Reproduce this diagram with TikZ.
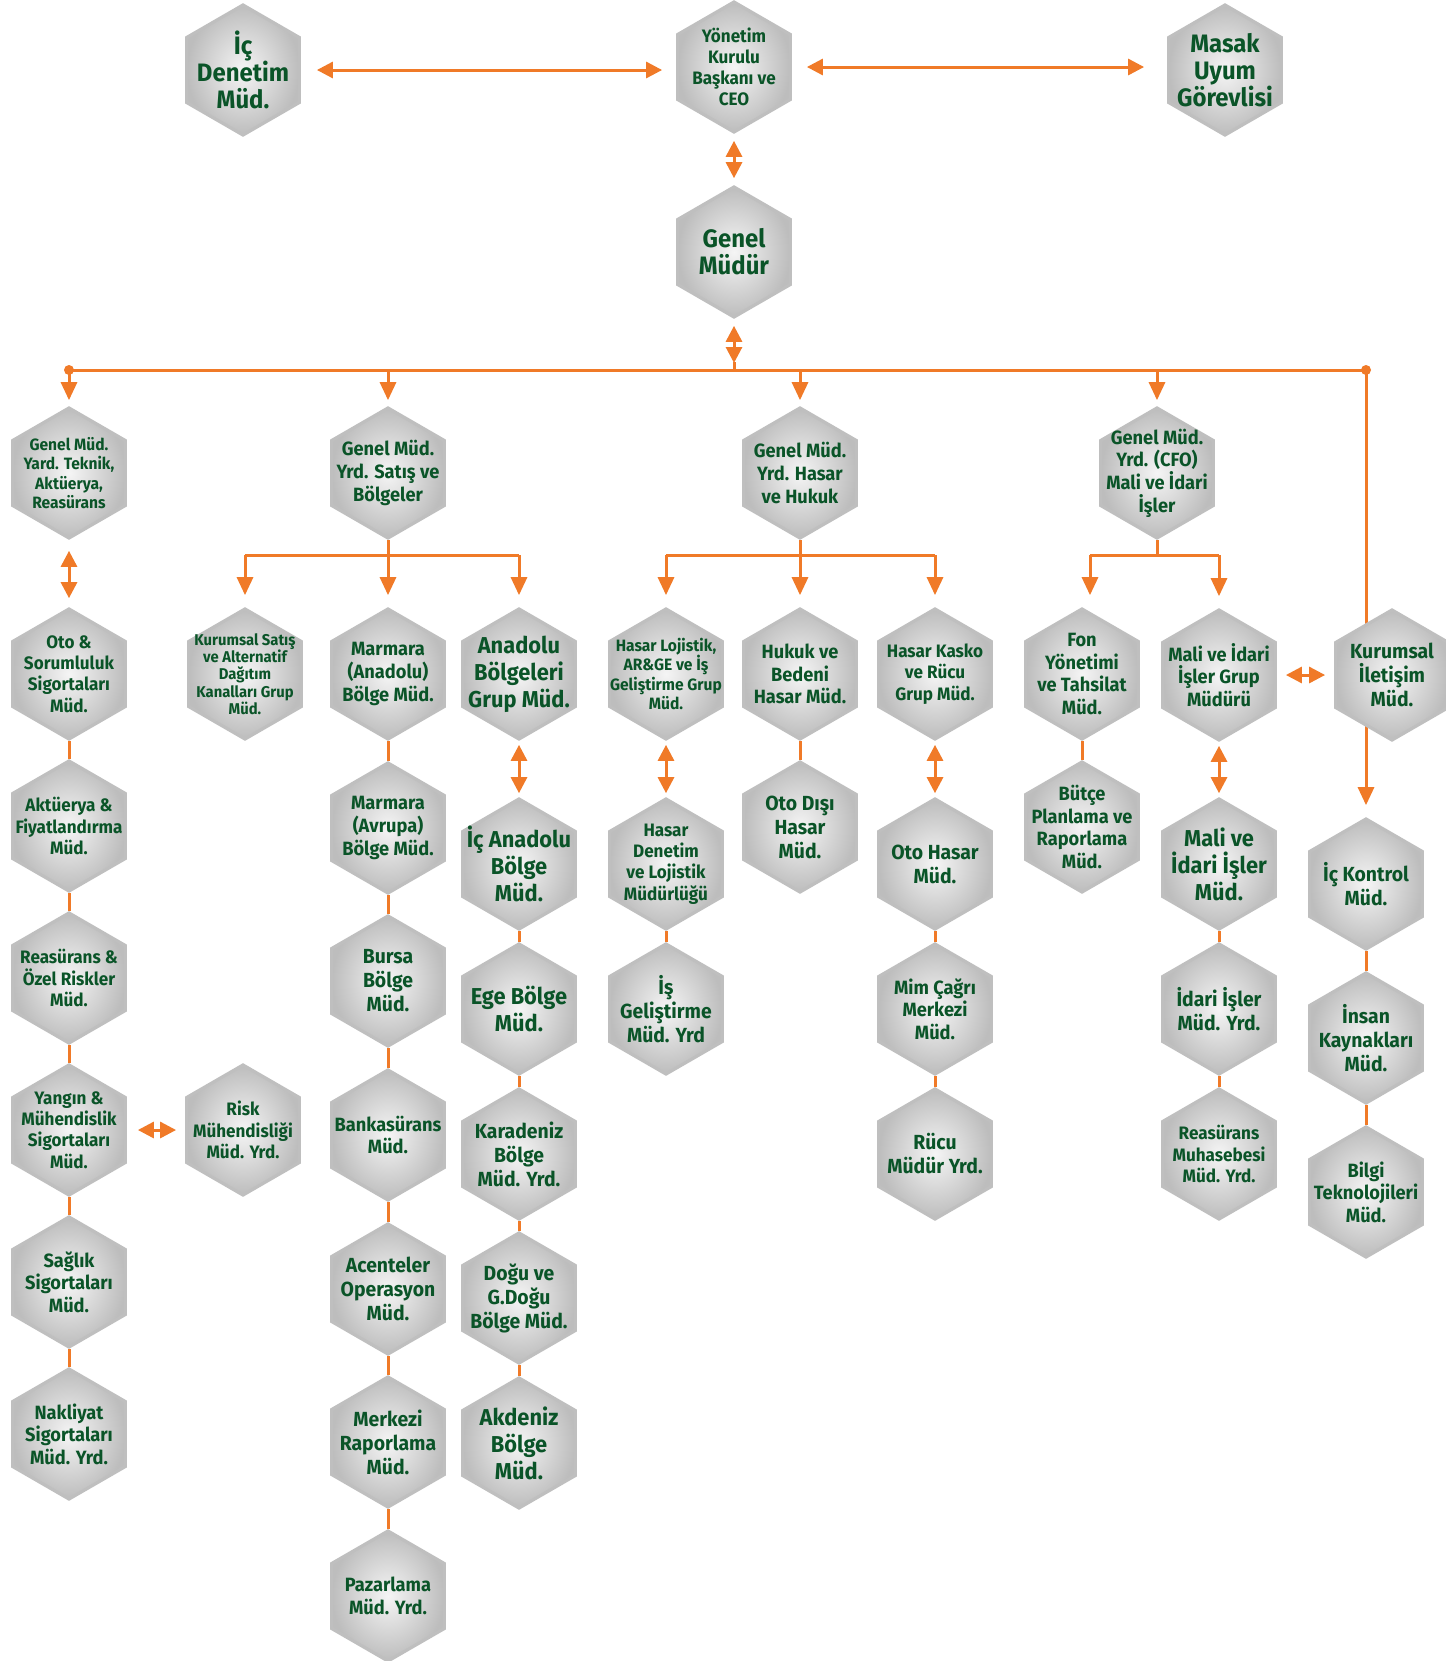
\documentclass[tikz,border=0pt]{standalone}
\usepackage{fontspec}
\setmainfont{Fira Sans}[FakeStretch=0.95]
\usepackage{tikz}
\usetikzlibrary{shapes,arrows.meta,positioning,backgrounds}
\definecolor{hexgreen}{RGB}{10,84,40}
\definecolor{orgline}{RGB}{240,122,40}

\begin{document}
\begin{tikzpicture}[x=0.5pt,y=-0.5pt,
    hexbox/.style={regular polygon, regular polygon sides=6, shape border rotate=30,
        minimum size=65pt, inner sep=0pt, draw=gray!50, line width=1.6pt,
        inner color=gray!8, outer color=gray!52},
    fXL/.style={font=\bfseries\fontsize{12.6}{13.6}\selectfont, text=hexgreen, align=center},
    fL/.style={font=\bfseries\fontsize{11.5}{13.5}\selectfont, text=hexgreen, align=center},
    fML/.style={font=\bfseries\fontsize{10.2}{12}\selectfont, text=hexgreen, align=center},
    fM/.style={font=\bfseries\fontsize{9.6}{11.3}\selectfont, text=hexgreen, align=center},
    fS/.style={font=\bfseries\fontsize{9}{10.6}\selectfont, text=hexgreen, align=center},
    fX/.style={font=\bfseries\fontsize{8.2}{9.6}\selectfont, text=hexgreen, align=center},
    fXX/.style={font=\bfseries\fontsize{7.8}{8.7}\selectfont, text=hexgreen, align=center},
    link/.style={draw=orgline, line width=1.5pt},
    arr/.style={link, -{Triangle[width=8pt,length=9pt]}},
    dbl/.style={link, {Triangle[width=8pt,length=8pt]}-{Triangle[width=8pt,length=8pt]}}]

    \useasboundingbox (0,0) rectangle (1446,1661);

    % top row
    \node [hexbox, label={[fXL]center:{İç\\Denetim\\Müd.}}] (icd) at (243,70) {};
    \node [hexbox, label={[fS]center:{Yönetim\\Kurulu\\Başkanı ve\\CEO}}] (ykb) at (734,67) {};
    \node [hexbox, label={[fXL]center:{Masak\\Uyum\\Görevlisi}}] (msk) at (1225,70) {};
    \node [hexbox, label={[fXL]center:{Genel\\Müdür}}] (gm) at (734,252) {};

    % deputies
    \node [hexbox, label={[fX]center:{Genel Müd.\\Yard. Teknik,\\Aktüerya,\\Reasürans}}] (tek) at (69,473) {};
    \node [hexbox, label={[fM]center:{Genel Müd.\\Yrd. Satış ve\\Bölgeler}}] (sat) at (388,473) {};
    \node [hexbox, label={[fM]center:{Genel Müd.\\Yrd. Hasar\\ve Hukuk}}] (has) at (800,473) {};
    \node [hexbox, label={[fM]center:{Genel Müd.\\Yrd. (CFO)\\Mali ve İdari\\İşler}}] (cfo) at (1157,473) {};

    % technical column
    \node [hexbox, label={[fS]center:{Oto \&\\Sorumluluk\\Sigortaları\\Müd.}}] (oto) at (69,674) {};
    \node [hexbox, label={[fS]center:{Aktüerya \&\\Fiyatlandırma\\Müd.}}] (akt) at (69,826) {};
    \node [hexbox, label={[fS]center:{Reasürans \&\\Özel Riskler\\Müd.}}] (rea) at (69,978) {};
    \node [hexbox, label={[fS]center:{Yangın \&\\Mühendislik\\Sigortaları\\Müd.}}] (yan) at (69,1130) {};
    \node [hexbox, label={[fS]center:{Risk\\Mühendisliği\\Müd. Yrd.}}] (rsk) at (243,1130) {};
    \node [hexbox, label={[fM]center:{Sağlık\\Sigortaları\\Müd.}}] (sag) at (69,1282) {};
    \node [hexbox, label={[fM]center:{Nakliyat\\Sigortaları\\Müd. Yrd.}}] (nak) at (69,1434) {};

    % sales column
    \node [hexbox, label={[fXX]center:{Kurumsal Satış\\ve Alternatif\\Dağıtım\\Kanalları Grup\\Müd.}}] (kus) at (245,674) {};
    \node [hexbox, label={[fM]center:{Marmara\\(Anadolu)\\Bölge Müd.}}] (mar) at (388,674) {};
    \node [hexbox, label={[fM]center:{Marmara\\(Avrupa)\\Bölge Müd.}}] (mav) at (388,828) {};
    \node [hexbox, label={[fML]center:{Bursa\\Bölge\\Müd.}}] (bur) at (388,981) {};
    \node [hexbox, label={[fM]center:{Bankasürans\\Müd.}}] (ban) at (388,1135) {};
    \node [hexbox, label={[fML]center:{Acenteler\\Operasyon\\Müd.}}] (ace) at (388,1289) {};
    \node [hexbox, label={[fML]center:{Merkezi\\Raporlama\\Müd.}}] (mrk) at (388,1442) {};
    \node [hexbox, label={[fM]center:{Pazarlama\\Müd. Yrd.}}] (paz) at (388,1596) {};

    \node [hexbox, label={[fL]center:{Anadolu\\Bölgeleri\\Grup Müd.}}] (anb) at (519,674) {};
    \node [hexbox, label={[fL]center:{İç Anadolu\\Bölge\\Müd.}}] (ica) at (519,864) {};
    \node [hexbox, label={[fL]center:{Ege Bölge\\Müd.}}] (ege) at (519,1009) {};
    \node [hexbox, label={[fML]center:{Karadeniz\\Bölge\\Müd. Yrd.}}] (kar) at (519,1154) {};
    \node [hexbox, label={[fML]center:{Doğu ve\\G.Doğu\\Bölge Müd.}}] (dog) at (519,1298) {};
    \node [hexbox, label={[fL]center:{Akdeniz\\Bölge\\Müd.}}] (akd) at (519,1443) {};

    % claims column
    \node [hexbox, label={[fX]center:{Hasar Lojistik,\\AR\&GE ve İş\\Geliştirme Grup\\Müd.}}] (hlo) at (666,674) {};
    \node [hexbox, label={[fS]center:{Hasar\\Denetim\\ve Lojistik\\Müdürlüğü}}] (hdl) at (666,864) {};
    \node [hexbox, label={[fML]center:{İş\\Geliştirme\\Müd. Yrd}}] (isg) at (666,1009) {};
    \node [hexbox, label={[fM]center:{Hukuk ve\\Bedeni\\Hasar Müd.}}] (huk) at (800,674) {};
    \node [hexbox, label={[fML]center:{Oto Dışı\\Hasar\\Müd.}}] (odh) at (800,827) {};
    \node [hexbox, label={[fS]center:{Hasar Kasko\\ve Rücu\\Grup Müd.}}] (kas) at (935,674) {};
    \node [hexbox, label={[fML]center:{Oto Hasar\\Müd.}}] (oth) at (935,864) {};
    \node [hexbox, label={[fM]center:{Mim Çağrı\\Merkezi\\Müd.}}] (mim) at (935,1009) {};
    \node [hexbox, label={[fML]center:{Rücu\\Müdür Yrd.}}] (rcu) at (935,1154) {};

    % finance column
    \node [hexbox, label={[fM]center:{Fon\\Yönetimi\\ve Tahsilat\\Müd.}}] (fon) at (1082,674) {};
    \node [hexbox, label={[fM]center:{Bütçe\\Planlama ve\\Raporlama\\Müd.}}] (but) at (1082,827) {};
    \node [hexbox, label={[fM]center:{Mali ve İdari\\İşler Grup\\Müdürü}}] (mig) at (1219,675) {};
    \node [hexbox, label={[fL]center:{Mali ve\\İdari İşler\\Müd.}}] (mia) at (1219,864) {};
    \node [hexbox, label={[fML]center:{İdari İşler\\Müd. Yrd.}}] (ida) at (1219,1009) {};
    \node [hexbox, label={[fS]center:{Reasürans\\Muhasebesi\\Müd. Yrd.}}] (rmu) at (1219,1154) {};

    % right column
    \node [hexbox, label={[fML]center:{Kurumsal\\İletişim\\Müd.}}] (kil) at (1392,675) {};
    \node [hexbox, label={[fML]center:{İç Kontrol\\Müd.}}] (ick) at (1366,884) {};
    \node [hexbox, label={[fML]center:{İnsan\\Kaynakları\\Müd.}}] (ins) at (1366,1038) {};
    \node [hexbox, label={[fM]center:{Bilgi\\Teknolojileri\\Müd.}}] (bil) at (1366,1192) {};

    \coordinate (busL) at (69,370);
    \coordinate (busR) at (1366,370);
    \coordinate (satbar) at (388,555);
    \coordinate (hasbar) at (800,555);
    \coordinate (cfobar) at (1157,555);

    \begin{scope}[on background layer]
        \fill [white] (0,0) rectangle (1446,1661);

        % top links
        \draw [dbl, shorten <=8pt, shorten >=7pt] (icd.east) -- (icd.east -| ykb.west);
        \draw [dbl, shorten <=7.5pt, shorten >=11.5pt] (ykb.east) -- (ykb.east -| msk.west);
        \draw [dbl, shorten <=3.5pt, shorten >=3.5pt] (ykb.south) -- (gm.north);
        \draw [dbl, shorten <=3.5pt, shorten >=3.5pt] (gm.south) -- (gm.south |- busL);
        \draw [link] ([yshift=4pt]gm.south |- busL) -- (gm.south |- busL);

        % bus
        \draw [link] (busL) -- (busR);
        \fill [orgline] (busL) circle (5);
        \fill [orgline] (busR) circle (5);
        \draw [arr, shorten >=3pt] (busL) -- (tek.north);
        \draw [arr, shorten >=3pt] (sat.north |- busL) -- (sat.north);
        \draw [arr, shorten >=3pt] (has.north |- busL) -- (has.north);
        \draw [arr, shorten >=3pt] (cfo.north |- busL) -- (cfo.north);
        \draw [arr, shorten >=6pt] (busR) -- (ick.north);

        % technical
        \draw [dbl, shorten <=5.5pt, shorten >=4.5pt] (tek.south) -- (oto.north);
        \draw [link] (oto.south) -- (akt.north);
        \draw [link] (akt.south) -- (rea.north);
        \draw [link] (rea.south) -- (yan.north);
        \draw [link] (yan.south) -- (sag.north);
        \draw [link] (sag.south) -- (nak.north);
        \draw [dbl, shorten <=5.5pt, shorten >=4.5pt] (yan.east) -- (rsk.west);

        % sales
        \draw [link] (sat.south) -- (satbar);
        \draw [link] (kus.north |- satbar) -- (anb.north |- satbar);
        \draw [arr, shorten >=6pt] (kus.north |- satbar) -- (kus.north);
        \draw [arr, shorten >=6pt] (satbar) -- (mar.north);
        \draw [arr, shorten >=6pt] (anb.north |- satbar) -- (anb.north);
        \draw [link] (mar.south) -- (mav.north);
        \draw [link] (mav.south) -- (bur.north);
        \draw [link] (bur.south) -- (ban.north);
        \draw [link] (ban.south) -- (ace.north);
        \draw [link] (ace.south) -- (mrk.north);
        \draw [link] (mrk.south) -- (paz.north);
        \draw [dbl, shorten <=2pt, shorten >=2pt] (anb.south) -- (ica.north);
        \draw [link] (ica.south) -- (ege.north);
        \draw [link] (ege.south) -- (kar.north);
        \draw [link] (kar.south) -- (dog.north);
        \draw [link] (dog.south) -- (akd.north);

        % claims
        \draw [link] (has.south) -- (hasbar);
        \draw [link] (hlo.north |- hasbar) -- (kas.north |- hasbar);
        \draw [arr, shorten >=6pt] (hlo.north |- hasbar) -- (hlo.north);
        \draw [arr, shorten >=6pt] (hasbar) -- (huk.north);
        \draw [arr, shorten >=6pt] (kas.north |- hasbar) -- (kas.north);
        \draw [dbl, shorten <=2pt, shorten >=2pt] (hlo.south) -- (hdl.north);
        \draw [link] (hdl.south) -- (isg.north);
        \draw [link] (huk.south) -- (odh.north);
        \draw [dbl, shorten <=2pt, shorten >=2pt] (kas.south) -- (oth.north);
        \draw [link] (oth.south) -- (mim.north);
        \draw [link] (mim.south) -- (rcu.north);

        % finance
        \draw [link] (cfo.south) -- (cfobar);
        \draw [link] ([xshift=4pt]fon.north |- cfobar) -- (mig.north |- cfobar);
        \draw [arr, shorten >=6pt] ([xshift=4pt]fon.north |- cfobar) -- ([xshift=4pt]fon.north);
        \draw [arr, shorten >=6pt] (mig.north |- cfobar) -- (mig.north);
        \draw [link] (fon.south) -- (but.north);
        \draw [dbl, shorten <=2pt, shorten >=2pt] (mig.south) -- (mia.north);
        \draw [link] (mia.south) -- (ida.north);
        \draw [link] (ida.south) -- (rmu.north);
        \draw [dbl, shorten <=4.5pt, shorten >=4.5pt] (mig.east) -- (kil.west);

        % right
        \draw [link] (ick.south) -- (ins.north);
        \draw [link] (ins.south) -- (bil.north);
    \end{scope}
\end{tikzpicture}
\end{document}
